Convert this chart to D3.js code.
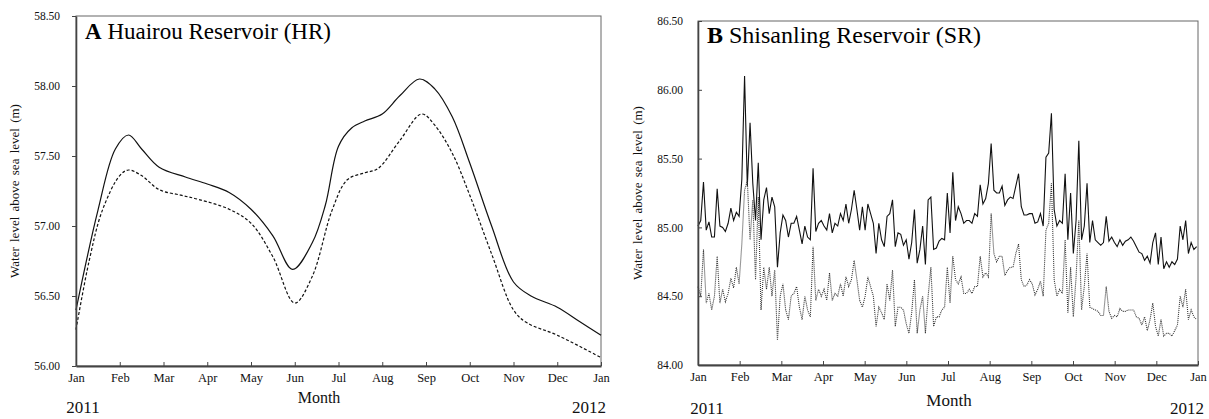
<!DOCTYPE html>
<html>
<head>
<meta charset="utf-8">
<script src="https://cdn.jsdelivr.net/npm/d3@7"></script>
<style>
  body { margin: 0; background: #fff; }
  svg { display: block; font-family: "Liberation Serif", "Times New Roman", serif; }
</style>
</head>
<body>
<svg id="chart" width="1209" height="419"></svg>
<script>
// month tick labels (Jan 2011 .. Jan 2012)
const monthLabels = ['Jan', 'Feb', 'Mar', 'Apr', 'May', 'Jun', 'Jul', 'Aug', 'Sep', 'Oct', 'Nov', 'Dec', 'Jan'];

// A: Huairou Reservoir, positions in months since 1 Jan 2011
const hrSolidMonth = [0, 0.5, 0.9, 1.2, 1.5, 1.9, 2.5, 3.0, 3.5, 4.0, 4.5, 4.95, 5.4, 5.7, 6.0, 6.3, 6.6, 7.0, 7.4, 7.85, 8.2, 8.6, 9.0, 9.5, 10.0, 10.4, 11.0, 11.5, 12];
const hrSolidLevel = [56.40, 57.11, 57.55, 57.65, 57.55, 57.42, 57.35, 57.30, 57.24, 57.12, 56.93, 56.69, 56.88, 57.15, 57.57, 57.70, 57.75, 57.80, 57.93, 58.05, 57.98, 57.78, 57.45, 57.00, 56.60, 56.50, 56.42, 56.32, 56.22];
const hrDashedMonth = [0, 0.3, 0.6, 1.0, 1.2, 1.5, 1.9, 2.4, 2.8, 3.5, 4.0, 4.5, 5.0, 5.4, 5.85, 6.2, 6.6, 6.9, 7.4, 7.9, 8.2, 8.6, 9.0, 9.5, 10.0, 10.3, 11.0, 12.0];
const hrDashedLevel = [56.26, 56.75, 57.11, 57.36, 57.40, 57.36, 57.26, 57.22, 57.19, 57.12, 57.02, 56.78, 56.45, 56.64, 57.11, 57.33, 57.38, 57.41, 57.61, 57.80, 57.72, 57.52, 57.22, 56.80, 56.40, 56.31, 56.22, 56.06];
const hrYTicks = [56.0, 56.5, 57.0, 57.5, 58.0, 58.5];

// B: Shisanling Reservoir, one reading every second day from 1 Jan 2011
const srSolid = [
  85.01, 85.05, 85.33, 84.98, 85.04, 84.93, 84.93, 85.28, 85.01, 85.00,
  84.97, 85.03, 85.14, 85.05, 85.11, 85.08, 85.35, 86.10, 85.30, 85.76,
  85.32, 85.05, 85.47, 84.91, 85.20, 85.29, 85.10, 85.22, 85.15, 84.71,
  84.96, 85.09, 85.05, 84.93, 85.03, 85.03, 85.08, 84.98, 84.88, 85.01,
  84.93, 84.91, 85.43, 84.97, 85.03, 85.05, 85.01, 84.98, 85.10, 84.96,
  85.03, 85.01, 85.10, 85.05, 85.17, 85.03, 85.13, 85.27, 85.13, 84.98,
  85.15, 84.98, 85.17, 85.10, 85.03, 84.81, 85.03, 84.91, 84.86, 85.08,
  85.10, 85.20, 84.86, 84.96, 84.95, 84.87, 84.91, 84.77, 84.89, 85.13,
  84.74, 84.84, 85.01, 84.73, 85.20, 85.22, 84.84, 84.85, 84.90, 84.92,
  84.91, 85.25, 84.96, 85.40, 85.05, 85.15, 85.10, 85.03, 85.05, 85.05,
  85.03, 85.10, 85.08, 85.31, 85.17, 85.21, 85.32, 85.61, 85.27, 85.25,
  85.25, 85.30, 85.16, 85.20, 85.22, 85.21, 85.30, 85.39, 85.15, 85.09,
  85.09, 85.10, 85.10, 85.03, 85.04, 85.10, 85.01, 85.51, 85.54, 85.83,
  85.13, 85.01, 85.05, 85.03, 85.39, 84.91, 85.25, 84.81, 85.05, 85.63,
  84.91, 85.01, 85.32, 84.89, 85.05, 84.91, 84.89, 84.87, 84.89, 85.08,
  84.90, 84.93, 84.89, 84.86, 84.91, 84.87, 84.90, 84.91, 84.93, 84.90,
  84.86, 84.82, 84.81, 84.76, 84.79, 84.74, 84.89, 84.96, 84.73, 84.93,
  84.70, 84.75, 84.71, 84.75, 84.73, 84.77, 85.01, 84.91, 85.05, 84.81,
  84.89, 84.84, 84.86
];
const srDotted = [
  84.57, 84.50, 84.84, 84.45, 84.52, 84.40, 84.50, 84.79, 84.45, 84.55,
  84.46, 84.52, 84.63, 84.56, 84.71, 84.59, 84.88, 85.27, 85.34, 84.91,
  85.20, 84.62, 85.22, 84.40, 84.71, 84.55, 84.71, 84.50, 84.69, 84.18,
  84.50, 84.59, 84.40, 84.33, 84.50, 84.52, 84.57, 84.42, 84.33, 84.50,
  84.40, 84.35, 84.86, 84.47, 84.55, 84.50, 84.55, 84.47, 84.67, 84.47,
  84.52, 84.50, 84.59, 84.50, 84.64, 84.57, 84.62, 84.76, 84.62, 84.47,
  84.42, 84.50, 84.64, 84.57, 84.50, 84.28, 84.42, 84.38, 84.33, 84.59,
  84.47, 84.69, 84.28, 84.42, 84.42, 84.40, 84.30, 84.23, 84.38, 84.62,
  84.23, 84.40, 84.50, 84.23, 84.50, 84.71, 84.28, 84.35, 84.35, 84.40,
  84.42, 84.71, 84.45, 84.79, 84.62, 84.59, 84.64, 84.52, 84.52, 84.55,
  84.52, 84.57, 84.57, 84.79, 84.64, 84.67, 84.64, 85.10, 84.81, 84.75,
  84.79, 84.79, 84.65, 84.69, 84.71, 84.71, 84.81, 84.88, 84.62, 84.57,
  84.58, 84.62, 84.59, 84.51, 84.55, 84.61, 84.50, 84.98, 85.03, 85.32,
  84.62, 84.50, 84.55, 84.52, 84.91, 84.38, 84.71, 84.35, 84.64, 85.05,
  84.40, 84.57, 84.81, 84.42, 84.41, 84.40, 84.39, 84.36, 84.36, 84.57,
  84.39, 84.34, 84.36, 84.35, 84.41, 84.39, 84.39, 84.40, 84.40, 84.40,
  84.35, 84.34, 84.29, 84.35, 84.25, 84.33, 84.45, 84.28, 84.21, 84.33,
  84.21, 84.23, 84.23, 84.21, 84.25, 84.29, 84.50, 84.42, 84.55, 84.33,
  84.40, 84.35, 84.33
];
const srYTicks = [84.0, 84.5, 85.0, 85.5, 86.0, 86.5];

const svg = d3.select('#chart');
svg.append('rect').attr('width', 1209).attr('height', 419).attr('fill', '#fff');

const fmt = d3.format('.2f');

const drawPanel = p => {
  const g = svg.append('g');
  const [x0, x1] = p.x.range();
  const [y0, y1] = p.y.range();

  // frame
  g.append('rect')
    .attr('x', x0).attr('y', y1)
    .attr('width', x1 - x0).attr('height', y0 - y1)
    .attr('fill', 'none').attr('stroke', '#666').attr('stroke-width', 1);

  // lines
  p.series.forEach(s => {
    g.append('path')
      .datum(s.data)
      .attr('fill', 'none')
      .attr('stroke', s.color)
      .attr('stroke-width', s.width)
      .attr('stroke-dasharray', s.dash)
      .attr('d', d3.line().x(d => p.x(d[0])).y(d => p.y(d[1])).curve(s.curve));
  });

  // x axis
  const xAxis = g.append('g')
    .attr('transform', `translate(0,${y0})`)
    .call(d3.axisBottom(p.x)
      .tickValues(p.monthTicks)
      .tickFormat((d, i) => monthLabels[i])
      .tickSizeInner(-4).tickSizeOuter(0).tickPadding(7));
  xAxis.select('.domain').attr('stroke', '#444').attr('stroke-width', 1.8);
  xAxis.selectAll('text').attr('font-size', p.tickFont).attr('fill', '#111')
    .style('font-family', '"Liberation Serif", serif');
  xAxis.selectAll('line').attr('stroke', '#444');

  // y axis
  const yAxis = g.append('g')
    .attr('transform', `translate(${x0},0)`)
    .call(d3.axisLeft(p.y)
      .tickValues(p.yTicks)
      .tickFormat(fmt)
      .tickSizeInner(p.yTickSize).tickSizeOuter(0).tickPadding(p.yPad));
  yAxis.select('.domain').attr('stroke', '#444').attr('stroke-width', 1.6);
  yAxis.selectAll('text').attr('font-size', 11.5).attr('fill', '#111')
    .style('font-family', '"Liberation Serif", serif');
  yAxis.selectAll('line').attr('stroke', '#444');

  // title
  const t = g.append('text')
    .attr('x', p.title.x).attr('y', p.title.y)
    .attr('font-size', p.title.size).attr('fill', '#000');
  t.append('tspan').attr('font-weight', 'bold').text(p.title.letter);
  t.append('tspan').text(p.title.text);

  // axis titles
  g.append('text')
    .attr('transform', `translate(${p.yTitleX},${(y0 + y1) / 2}) rotate(-90)`)
    .attr('text-anchor', 'middle')
    .attr('font-size', 13)
    .attr('word-spacing', 2)
    .attr('fill', '#111')
    .text('Water level above sea level (m)');

  g.append('text')
    .attr('x', p.monthLabel.x).attr('y', p.monthLabel.y)
    .attr('text-anchor', 'middle')
    .attr('font-size', p.monthLabel.size)
    .attr('fill', '#111')
    .text('Month');

  p.years.forEach(yr => {
    g.append('text')
      .attr('x', yr.x).attr('y', yr.y)
      .attr('text-anchor', yr.anchor)
      .attr('font-size', yr.size)
      .attr('fill', '#111')
      .text(yr.text);
  });
};

// panel A
const hrX = d3.scaleLinear().domain([0, 12]).range([76, 601]);
const hrY = d3.scaleLinear().domain([56, 58.5]).range([366, 16]);
drawPanel({
  x: hrX, y: hrY,
  monthTicks: d3.range(0, 13),
  yTicks: hrYTicks,
  yTickSize: 4, yPad: 12,
  tickFont: 12.5,
  series: [
    { data: hrSolidMonth.map((m, i) => [m, hrSolidLevel[i]]), color: '#111', width: 1.2, dash: null, curve: d3.curveCatmullRom.alpha(0.5) },
    { data: hrDashedMonth.map((m, i) => [m, hrDashedLevel[i]]), color: '#111', width: 1.2, dash: '3,2', curve: d3.curveCatmullRom.alpha(0.5) }
  ],
  title: { x: 85, y: 39, size: 23, letter: 'A', text: ' Huairou Reservoir (HR)' },
  yTitleX: 19,
  monthLabel: { x: 319, y: 403, size: 16 },
  years: [
    { text: '2011', x: 83, y: 413, anchor: 'middle', size: 17 },
    { text: '2012', x: 589, y: 413, anchor: 'middle', size: 17 }
  ]
});

// panel B
const srX = d3.scaleLinear().domain([0, 365]).range([698, 1198]);
const srY = d3.scaleLinear().domain([84, 86.5]).range([365, 21]);
drawPanel({
  x: srX, y: srY,
  monthTicks: d3.range(0, 13).map(i => i * 365 / 12),
  yTicks: srYTicks,
  yTickSize: -4, yPad: 15,
  tickFont: 12.5,
  series: [
    { data: srSolid.map((v, i) => [i * 2, v]), color: '#111', width: 1.1, dash: null, curve: d3.curveLinear },
    { data: srDotted.map((v, i) => [i * 2, v]), color: '#333', width: 1.1, dash: '1,1', curve: d3.curveLinear }
  ],
  title: { x: 707, y: 43, size: 24, letter: 'B', text: ' Shisanling Reservoir (SR)' },
  yTitleX: 642,
  monthLabel: { x: 949, y: 406, size: 17 },
  years: [
    { text: '2011', x: 707, y: 414, anchor: 'middle', size: 17 },
    { text: '2012', x: 1204, y: 414, anchor: 'end', size: 17 }
  ]
});
</script>
</body>
</html>
